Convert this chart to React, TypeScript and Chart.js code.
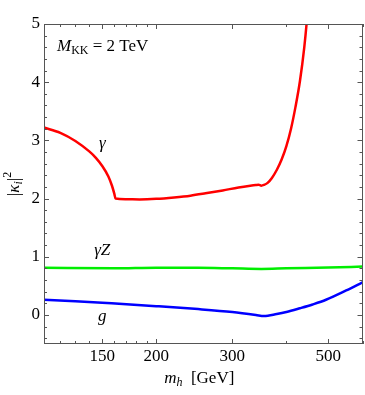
import React, { useEffect, useRef } from "react";
import { Chart, registerables } from "chart.js";

Chart.register(...registerables);

// ---- data ----
const X_MIN = 110;
const X_MAX = 600;
const Y_MIN = -0.5;
const Y_MAX = 5;

const xMajorTicks = [150, 200, 300, 500];
const xMinorTicks = [120, 130, 140, 160, 170, 180, 190, 400, 600];
const yMajorTicks = [0, 1, 2, 3, 4, 5];
const yMinorTicks = [-0.4, -0.2, 0.2, 0.4, 0.6, 0.8, 1.2, 1.4, 1.6, 1.8, 2.2, 2.4, 2.6, 2.8, 3.2, 3.4, 3.6, 3.8, 4.2, 4.4, 4.6, 4.8];

const gammaMass = [110, 120, 130, 140, 145, 150, 155, 158, 160, 161, 170, 183, 200, 220, 240, 260, 285, 310, 330, 340, 345, 350, 355, 362, 370, 380, 390, 400, 410, 420, 430, 440, 446, 452];
const gammaValues = [3.22, 3.13, 2.99, 2.81, 2.7, 2.56, 2.38, 2.22, 2.08, 2.0, 1.99, 1.985, 1.995, 2.02, 2.05, 2.09, 2.14, 2.19, 2.22, 2.232, 2.236, 2.222, 2.235, 2.27, 2.35, 2.49, 2.67, 2.9, 3.2, 3.58, 4.02, 4.6, 5.05, 5.6];

const gammaZMass = [110, 160, 200, 250, 300, 350, 400, 500, 600];
const gammaZValues = [0.81, 0.8, 0.81, 0.81, 0.8, 0.79, 0.8, 0.815, 0.83];

const gluonMass = [110, 130, 150, 164, 200, 250, 300, 340, 355, 380, 400, 430, 460, 494, 550, 600];
const gluonValues = [0.26, 0.235, 0.21, 0.19, 0.15, 0.1, 0.05, 0.0, -0.02, 0.015, 0.05, 0.115, 0.18, 0.26, 0.42, 0.56];

const curveLabels = ["γ", "γZ", "g"];
const curveLabelMass = [150, 150, 150];
const curveLabelValues = [2.95, 1.1, -0.02];

const SERIF = "'Liberation Serif', 'Times New Roman', 'DejaVu Serif', serif";
const FRAME_COLOR = "#555";
const FS = 17;
const FS_SMALL = 12;

function toPoints(xs: number[], ys: number[]) {
  return xs.map((x, i) => ({ x, y: ys[i] }));
}

type Seg = { t: string; italic?: boolean; size: number; dy: number };

function drawSegments(ctx: CanvasRenderingContext2D, segs: Seg[], x: number, y: number, align: "left" | "center") {
  const widths = segs.map((s) => {
    ctx.font = `${s.italic ? "italic " : ""}${s.size}px ${SERIF}`;
    return ctx.measureText(s.t).width;
  });
  const total = widths.reduce((a, b) => a + b, 0);
  let cx = align === "center" ? x - total / 2 : x;
  ctx.textAlign = "left";
  ctx.textBaseline = "alphabetic";
  segs.forEach((s, i) => {
    ctx.font = `${s.italic ? "italic " : ""}${s.size}px ${SERIF}`;
    ctx.fillText(s.t, cx, y + s.dy);
    cx += widths[i];
  });
}

const framePlugin = {
  id: "frameTicks",
  afterDatasetsDraw(chart: any) {
    const { ctx, chartArea: a, scales } = chart;
    const xs = scales.x;
    const ys = scales.y;
    ctx.save();
    ctx.strokeStyle = FRAME_COLOR;
    ctx.lineWidth = 1;
    ctx.strokeRect(Math.round(a.left) + 0.5, Math.round(a.top) + 0.5, Math.round(a.right - a.left) - 1, Math.round(a.bottom - a.top) - 1);
    ctx.beginPath();
    const xt = (vals: number[], len: number) => {
      vals.forEach((v) => {
        const px = Math.round(xs.getPixelForValue(v)) + 0.5;
        ctx.moveTo(px, a.bottom);
        ctx.lineTo(px, a.bottom - len);
        ctx.moveTo(px, a.top);
        ctx.lineTo(px, a.top + len);
      });
    };
    const yt = (vals: number[], len: number) => {
      vals.forEach((v) => {
        const py = Math.round(ys.getPixelForValue(v)) + 0.5;
        ctx.moveTo(a.left, py);
        ctx.lineTo(a.left + len, py);
        ctx.moveTo(a.right, py);
        ctx.lineTo(a.right - len, py);
      });
    };
    xt(xMajorTicks, 5);
    xt(xMinorTicks, 3);
    yt(yMajorTicks, 5);
    yt(yMinorTicks, 3);
    ctx.stroke();
    ctx.restore();
  },
  afterDraw(chart: any) {
    const { ctx, chartArea: a, scales } = chart;
    const xs = scales.x;
    const ys = scales.y;
    ctx.save();
    ctx.fillStyle = "#000";
    // curve labels
    curveLabels.forEach((t, i) => {
      ctx.font = `italic ${FS}px ${SERIF}`;
      ctx.textAlign = "center";
      ctx.textBaseline = "middle";
      ctx.fillText(t, xs.getPixelForValue(curveLabelMass[i]), ys.getPixelForValue(curveLabelValues[i]));
    });
    // M_KK label
    drawSegments(
      ctx,
      [
        { t: "M", italic: true, size: FS, dy: 0 },
        { t: "KK", size: FS_SMALL, dy: 3 },
        { t: " = 2 TeV", size: FS, dy: 0 },
      ],
      a.left + 13,
      a.top + 27,
      "left"
    );
    // x title
    drawSegments(
      ctx,
      [
        { t: "m", italic: true, size: FS, dy: 0 },
        { t: "h", italic: true, size: FS_SMALL, dy: 3 },
        { t: "  [GeV]", size: FS, dy: 0 },
      ],
      (a.left + a.right) / 2 - 4,
      chart.height - 12,
      "center"
    );
    // y title
    ctx.translate(19, (a.top + a.bottom) / 2);
    ctx.rotate(-Math.PI / 2);
    drawSegments(
      ctx,
      [
        { t: "|", size: FS, dy: 0 },
        { t: "κ", italic: true, size: FS, dy: 0 },
        { t: "i", italic: true, size: FS_SMALL, dy: 3 },
        { t: "|", size: FS, dy: 0 },
        { t: "2", size: FS_SMALL, dy: -8 },
      ],
      0,
      0,
      "center"
    );
    ctx.restore();
  },
};

export default function App() {
  const ref = useRef<HTMLCanvasElement | null>(null);
  useEffect(() => {
    if (!ref.current) return;
    const chart = new Chart(ref.current, {
      type: "line",
      data: {
        datasets: [
          {
            data: toPoints(gammaMass, gammaValues),
            borderColor: "#ff0000",
            borderWidth: 2.5,
            pointRadius: 0,
            cubicInterpolationMode: "monotone",
            clip: 0,
          },
          {
            data: toPoints(gammaZMass, gammaZValues),
            borderColor: "#00ee00",
            borderWidth: 2.5,
            pointRadius: 0,
            cubicInterpolationMode: "monotone",
            clip: 0,
          },
          {
            data: toPoints(gluonMass, gluonValues),
            borderColor: "#0000ff",
            borderWidth: 2.5,
            pointRadius: 0,
            cubicInterpolationMode: "monotone",
            clip: 0,
          },
        ],
      },
      options: {
        animation: false,
        responsive: false,
        devicePixelRatio: 1,
        layout: { padding: { top: 24, right: 2.5, left: 0, bottom: 0 } },
        plugins: { legend: { display: false }, tooltip: { enabled: false } },
        scales: {
          x: {
            type: "logarithmic",
            min: X_MIN,
            max: X_MAX,
            afterBuildTicks: (s: any) => {
              s.ticks = xMajorTicks.map((v) => ({ value: v }));
            },
            afterFit: (s: any) => {
              s.height = 51;
            },
            grid: { display: false, drawTicks: false },
            border: { display: false },
            ticks: {
              autoSkip: false,
              maxRotation: 0,
              padding: 2,
              color: "#000",
              font: { family: SERIF, size: FS },
              callback: (v: any) => String(v),
            },
          },
          y: {
            type: "linear",
            min: Y_MIN,
            max: Y_MAX,
            afterBuildTicks: (s: any) => {
              s.ticks = yMajorTicks.map((v) => ({ value: v }));
            },
            afterFit: (s: any) => {
              s.width = 44;
            },
            grid: { display: false, drawTicks: false },
            border: { display: false },
            ticks: {
              padding: 4,
              color: "#000",
              font: { family: SERIF, size: FS },
              callback: (v: any) => String(v),
            },
          },
        },
      } as any,
      plugins: [framePlugin],
    });
    return () => chart.destroy();
  }, []);
  return (
    <div style={{ position: "fixed", left: 0, top: 0, width: 365, height: 395, background: "#fff" }}>
      <canvas ref={ref} width={365} height={395} style={{ width: 365, height: 395 }} />
    </div>
  );
}
